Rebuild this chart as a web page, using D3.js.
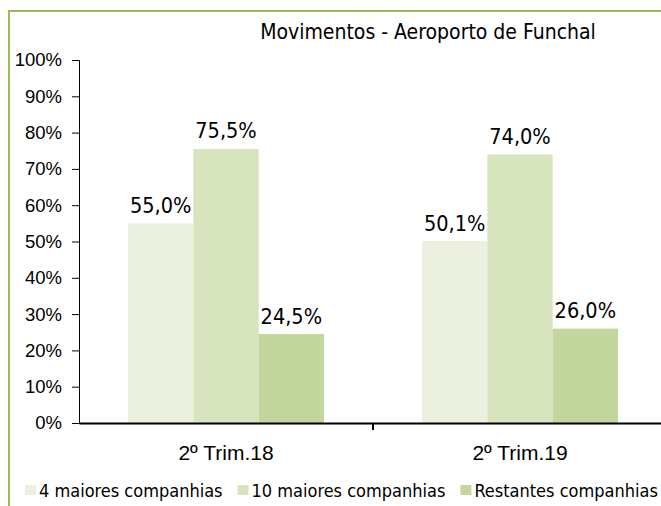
<!DOCTYPE html>
<html><head><meta charset="utf-8">
<script src="https://cdn.jsdelivr.net/npm/d3@7"></script>
<style>
html,body{margin:0;padding:0;background:#fff;}
svg{display:block;font-family:Tahoma,"DejaVu Sans Condensed","DejaVu Sans",sans-serif;}
</style></head>
<body><svg id="c" width="661" height="506"></svg>
<script>
const title = "Movimentos - Aeroporto de Funchal";
const categories = ["2º Trim.18", "2º Trim.19"];
const seriesNames = ["4 maiores companhias", "10 maiores companhias", "Restantes companhias"];
const series4 = [55.0, 50.1];
const series10 = [75.5, 74.0];
const seriesRest = [24.5, 26.0];
const yTicks = [0, 10, 20, 30, 40, 50, 60, 70, 80, 90, 100];
const colors = ["#EBF1DE", "#D7E4BD", "#C3D69B"];

const allSeries = [series4, series10, seriesRest];
const svg = d3.select("#c");

// frame
svg.append("path").attr("d", "M9,506 V11 H661")
  .attr("fill", "none").attr("stroke", "#9BBB59").attr("stroke-width", 2);

const x0 = 79, x1 = 667, yTop = 60, yBot = 423;
const x = d3.scaleBand().domain(categories).range([x0, x1]).paddingInner(0).paddingOuter(0);
const xs = d3.scaleBand().domain(d3.range(3)).range([0, x.bandwidth()]).paddingInner(0).paddingOuter(0.75);
const y = d3.scaleLinear().domain([0, 100]).range([yBot, yTop]);

// title
svg.append("text").attr("x", 428).attr("y", 39).attr("text-anchor", "middle")
  .attr("font-size", 21).attr("fill", "#000").text(title);

// y axis
const yAxis = d3.axisLeft(y).tickValues(yTicks).tickFormat(d => d + "%").tickSize(7).tickPadding(10);
const gy = svg.append("g").attr("transform", `translate(${x0},0)`).call(yAxis);
gy.select(".domain").attr("stroke", "#000").attr("stroke-width", 1);
gy.selectAll(".tick line").attr("stroke", "#000");
gy.selectAll(".tick text").attr("font-size", 18.5).attr("fill", "#000").attr("font-family", null);

// bars
const groups = svg.append("g").selectAll("g").data(categories).join("g")
  .attr("transform", d => `translate(${x(d)},0)`);
groups.each(function(cat, ci) {
  const g = d3.select(this);
  allSeries.forEach((s, si) => {
    g.append("rect").attr("x", xs(si)).attr("width", xs.bandwidth())
      .attr("y", y(s[ci])).attr("height", y(0) - y(s[ci])).attr("fill", colors[si]);
    g.append("text").attr("x", xs(si) + xs.bandwidth() / 2).attr("y", y(s[ci]) - 10.5)
      .attr("text-anchor", "middle").attr("font-size", 21.5).attr("fill", "#000")
      .text(s[ci].toFixed(1).replace(".", ",") + "%");
  });
});

// x axis
const xAxis = d3.axisBottom(x).tickSize(0).tickPadding(21);
const gx = svg.append("g").attr("transform", `translate(0,${yBot})`).call(xAxis);
gx.select(".domain").attr("stroke", "#000").attr("stroke-width", 2);
gx.selectAll(".tick text").attr("font-size", 21).attr("fill", "#000").attr("font-family", null)
  .attr("dy", null).attr("y", 37);
// category divider ticks
svg.append("g").selectAll("line").data(categories.slice(1)).join("line")
  .attr("x1", d => x(d)).attr("x2", d => x(d)).attr("y1", yBot).attr("y2", yBot + 7)
  .attr("stroke", "#000").attr("stroke-width", 2);

// legend
const lg = svg.append("g").attr("transform", "translate(25,485)");
let lx = 0;
seriesNames.forEach((name, i) => {
  const item = lg.append("g").attr("transform", `translate(${lx},0)`);
  item.append("rect").attr("width", 11).attr("height", 10).attr("fill", colors[i]);
  const t = item.append("text").attr("x", 14).attr("y", 12).attr("font-size", 18).attr("fill", "#000").text(name);
  lx += 14 + t.node().getComputedTextLength() + 15;
});
</script></body></html>
